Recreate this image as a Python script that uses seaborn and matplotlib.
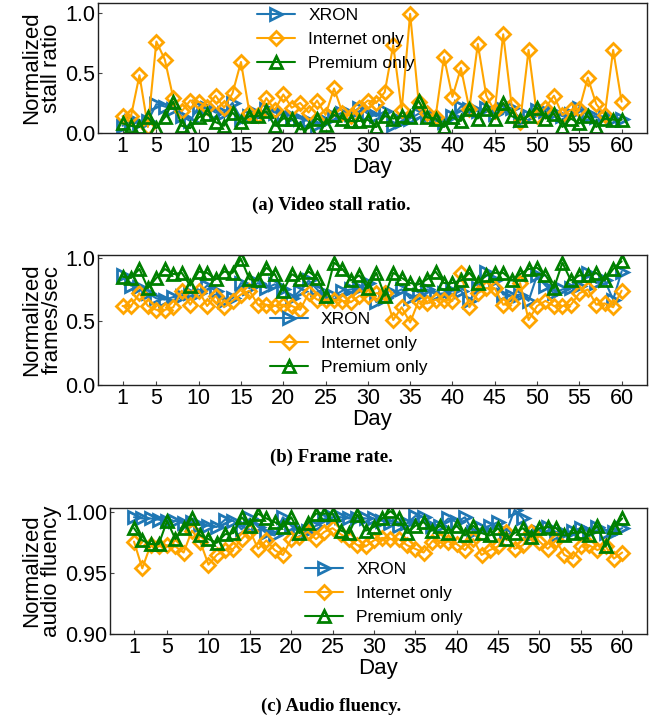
import numpy as np
import pandas as pd
import matplotlib
matplotlib.use("Agg")
import matplotlib.pyplot as plt
import seaborn as sns
from matplotlib.ticker import MultipleLocator, FixedLocator

sns.set_theme(style="white")
plt.rcParams['font.family'] = ['Liberation Sans', 'DejaVu Sans']
plt.rcParams['text.color'] = 'black'
plt.rcParams['axes.labelcolor'] = 'black'
plt.rcParams['xtick.color'] = 'black'
plt.rcParams['ytick.color'] = 'black'

days = list(range(1, 61))

# (a) Video stall ratio
stall_xron = [0.06, 0.10, 0.08, 0.10, 0.24, 0.22, 0.20, 0.14, 0.10, 0.22,
              0.21, 0.17, 0.17, 0.25, 0.12, 0.14, 0.16, 0.20, 0.17, 0.16,
              0.14, 0.12, 0.10, 0.07, 0.10, 0.14, 0.17, 0.16, 0.21, 0.16,
              0.14, 0.18, 0.07, 0.10, 0.12, 0.16, 0.14, 0.13, 0.09, 0.14,
              0.22, 0.20, 0.18, 0.21, 0.16, 0.20, 0.21, 0.11, 0.14, 0.19,
              0.18, 0.17, 0.14, 0.16, 0.21, 0.14, 0.13, 0.14, 0.12, 0.12]
stall_internet = [0.14, 0.14, 0.48, 0.05, 0.76, 0.61, 0.29, 0.18, 0.27, 0.26,
                  0.22, 0.31, 0.21, 0.33, 0.59, 0.17, 0.15, 0.29, 0.19, 0.32,
                  0.21, 0.25, 0.17, 0.27, 0.15, 0.37, 0.17, 0.14, 0.21, 0.27,
                  0.25, 0.34, 0.73, 0.19, 0.99, 0.26, 0.17, 0.13, 0.63, 0.30,
                  0.54, 0.20, 0.74, 0.31, 0.18, 0.82, 0.23, 0.09, 0.69, 0.14,
                  0.21, 0.31, 0.15, 0.19, 0.20, 0.46, 0.24, 0.15, 0.69, 0.26]
stall_premium = [0.08, 0.06, 0.05, 0.13, 0.04, 0.13, 0.26, 0.06, 0.04, 0.13,
                 0.16, 0.09, 0.06, 0.17, 0.09, 0.14, 0.14, 0.18, 0.06, 0.12,
                 0.12, 0.03, 0.04, 0.12, 0.07, 0.15, 0.12, 0.10, 0.10, 0.11,
                 0.05, 0.14, 0.12, 0.14, 0.13, 0.27, 0.13, 0.12, 0.05, 0.13,
                 0.10, 0.20, 0.12, 0.20, 0.12, 0.25, 0.14, 0.11, 0.14, 0.21,
                 0.12, 0.16, 0.05, 0.12, 0.08, 0.14, 0.05, 0.12, 0.11, 0.11]

# (b) Frame rate
fps_xron = [0.86, 0.78, 0.77, 0.72, 0.68, 0.67, 0.69, 0.70, 0.72, 0.72,
            0.78, 0.74, 0.66, 0.68, 0.80, 0.76, 0.80, 0.76, 0.79, 0.75,
            0.68, 0.74, 0.82, 0.75, 0.68, 0.70, 0.74, 0.75, 0.76, 0.80,
            0.65, 0.68, 0.72, 0.75, 0.68, 0.71, 0.75, 0.71, 0.72, 0.74,
            0.74, 0.66, 0.76, 0.89, 0.82, 0.71, 0.70, 0.71, 0.66, 0.86,
            0.78, 0.72, 0.75, 0.76, 0.78, 0.88, 0.80, 0.82, 0.67, 0.89]
fps_internet = [0.62, 0.62, 0.72, 0.62, 0.59, 0.59, 0.61, 0.74, 0.63, 0.74,
                0.62, 0.70, 0.61, 0.66, 0.71, 0.74, 0.63, 0.63, 0.62, 0.63,
                0.62, 0.59, 0.72, 0.67, 0.67, 0.67, 0.66, 0.65, 0.70, 0.70,
                0.72, 0.72, 0.51, 0.61, 0.49, 0.66, 0.64, 0.67, 0.67, 0.66,
                0.88, 0.61, 0.72, 0.76, 0.76, 0.63, 0.64, 0.80, 0.51, 0.62,
                0.66, 0.62, 0.62, 0.63, 0.72, 0.75, 0.63, 0.64, 0.61, 0.74]
fps_premium = [0.85, 0.84, 0.91, 0.76, 0.84, 0.91, 0.87, 0.88, 0.78, 0.89,
               0.88, 0.83, 0.89, 0.88, 0.99, 0.83, 0.82, 0.92, 0.87, 0.74,
               0.87, 0.83, 0.89, 0.84, 0.70, 0.96, 0.91, 0.82, 0.86, 0.76,
               0.88, 0.70, 0.88, 0.84, 0.80, 0.79, 0.83, 0.89, 0.80, 0.80,
               0.82, 0.88, 0.80, 0.86, 0.88, 0.88, 0.82, 0.87, 0.91, 0.92,
               0.86, 0.76, 0.96, 0.82, 0.86, 0.86, 0.88, 0.82, 0.91, 0.97]

# (c) Audio fluency
audio_xron = [0.996, 0.995, 0.995, 0.994, 0.993, 0.993, 0.991, 0.992, 0.990, 0.989,
              0.988, 0.994, 0.993, 0.986, 0.995, 0.988, 0.983, 0.981, 0.996, 0.989,
              0.983, 0.985, 0.989, 0.995, 0.996, 0.996, 0.995, 0.995, 0.995, 0.995,
              0.993, 0.991, 0.989, 0.991, 0.997, 0.996, 0.989, 0.989, 0.995, 0.992,
              0.996, 0.984, 0.987, 0.989, 0.992, 0.984, 1.002, 0.995, 0.981, 0.984,
              0.988, 0.981, 0.983, 0.985, 0.987, 0.984, 0.988, 0.983, 0.984, 0.987]
audio_internet = [0.976, 0.954, 0.973, 0.972, 0.973, 0.972, 0.967, 0.985, 0.976, 0.957,
                  0.965, 0.969, 0.970, 0.978, 0.985, 0.970, 0.977, 0.969, 0.965, 0.978,
                  0.980, 0.984, 0.978, 0.984, 0.987, 0.982, 0.978, 0.973, 0.972, 0.977,
                  0.979, 0.978, 0.978, 0.973, 0.970, 0.967, 0.976, 0.977, 0.976, 0.974,
                  0.969, 0.978, 0.965, 0.969, 0.972, 0.984, 0.970, 0.973, 0.984, 0.976,
                  0.970, 0.977, 0.965, 0.962, 0.972, 0.973, 0.969, 0.972, 0.962, 0.967]
audio_premium = [0.987, 0.977, 0.974, 0.974, 0.993, 0.978, 0.987, 0.995, 0.981, 0.978,
                 0.975, 0.982, 0.983, 0.996, 0.989, 0.999, 0.995, 0.992, 0.988, 0.996,
                 0.983, 0.991, 0.999, 0.999, 0.999, 0.985, 0.983, 0.998, 0.985, 0.988,
                 0.995, 1.001, 0.995, 0.983, 0.989, 0.992, 0.985, 0.989, 0.983, 0.989,
                 0.981, 0.989, 0.983, 0.981, 0.987, 0.978, 0.983, 0.987, 0.980, 0.987,
                 0.988, 0.987, 0.981, 0.983, 0.984, 0.981, 0.989, 0.972, 0.988, 0.995]

series_names = ["XRON", "Internet only", "Premium only"]
colors = ["#1f77b4", "#ffa500", "#008000"]
markers = [">", "D", "^"]
msizes = [8, 7.5, 8]

panels = [
    dict(data=[stall_xron, stall_internet, stall_premium],
         rect=[98/662, 1-133/721, 549/662, 130/721],
         ylim=(0, 1.08), yticks=[0.0, 0.5, 1.0], yfmt="{:.1f}",
         ylabel="Normalized\nstall ratio",
         leg=(0.29, 0.965), caption="(a) Video stall ratio.", cap_y=1-205/721),
    dict(data=[fps_xron, fps_internet, fps_premium],
         rect=[98/662, 1-385/721, 549/662, 130/721],
         ylim=(0, 1.02), yticks=[0.0, 0.5, 1.0], yfmt="{:.1f}",
         ylabel="Normalized\nframes/sec",
         leg=(0.313, 0.565), caption="(b) Frame rate.", cap_y=1-457/721),
    dict(data=[audio_xron, audio_internet, audio_premium],
         rect=[110/662, 1-634/721, 537/662, 126/721],
         ylim=(0.9, 1.0036), yticks=[0.90, 0.95, 1.00], yfmt="{:.2f}",
         ylabel="Normalized\naudio fluency",
         leg=(0.363, 0.573), caption="(c) Audio fluency.", cap_y=1-706/721),
]

fig = plt.figure(figsize=(6.62, 7.21), dpi=100)

for p in panels:
    ax = fig.add_axes(p["rect"])
    for name, vals, c, m, ms in zip(series_names, p["data"], colors, markers, msizes):
        df = pd.DataFrame({"Day": days, "v": vals})
        sns.lineplot(data=df, x="Day", y="v", ax=ax, color=c, marker=m,
                     markersize=ms, markerfacecolor="none", markeredgecolor=c,
                     markeredgewidth=2, linewidth=1.5, label=name)
    ax.set_xlim(-1.9, 63)
    ax.set_ylim(*p["ylim"])
    ax.xaxis.set_major_locator(FixedLocator([1, 5, 10, 15, 20, 25, 30, 35, 40, 45, 50, 55, 60]))
    ax.xaxis.set_minor_locator(MultipleLocator(1))
    ax.set_yticks(p["yticks"])
    ax.set_yticklabels([p["yfmt"].format(t) for t in p["yticks"]])
    ax.tick_params(axis="both", which="major", direction="in", length=3,
                   width=0.8, labelsize=15.5, pad=2, color="#444444")
    ax.tick_params(axis="x", which="minor", direction="in", length=2,
                   width=0.6, color="#444444")
    ax.tick_params(axis="x", which="major", bottom=True)
    ax.tick_params(axis="y", which="major", left=True)
    ax.set_xlabel("Day", fontsize=16, labelpad=0)
    ax.set_ylabel(p["ylabel"], fontsize=16, labelpad=2, linespacing=0.95)
    for s in ax.spines.values():
        s.set_color("#222222")
        s.set_linewidth(1.0)
    ax.legend(loc="upper left", bbox_to_anchor=p["leg"], frameon=False,
              fontsize=12.5, borderaxespad=0, borderpad=0, handlelength=2.2,
              handletextpad=0.75, labelspacing=0.52)
    fig.text(0.5, p["cap_y"], p["caption"], ha="center", va="center",
             fontsize=13.5, fontweight="bold", family="Liberation Serif")

fig.savefig("out.png", dpi=100)
